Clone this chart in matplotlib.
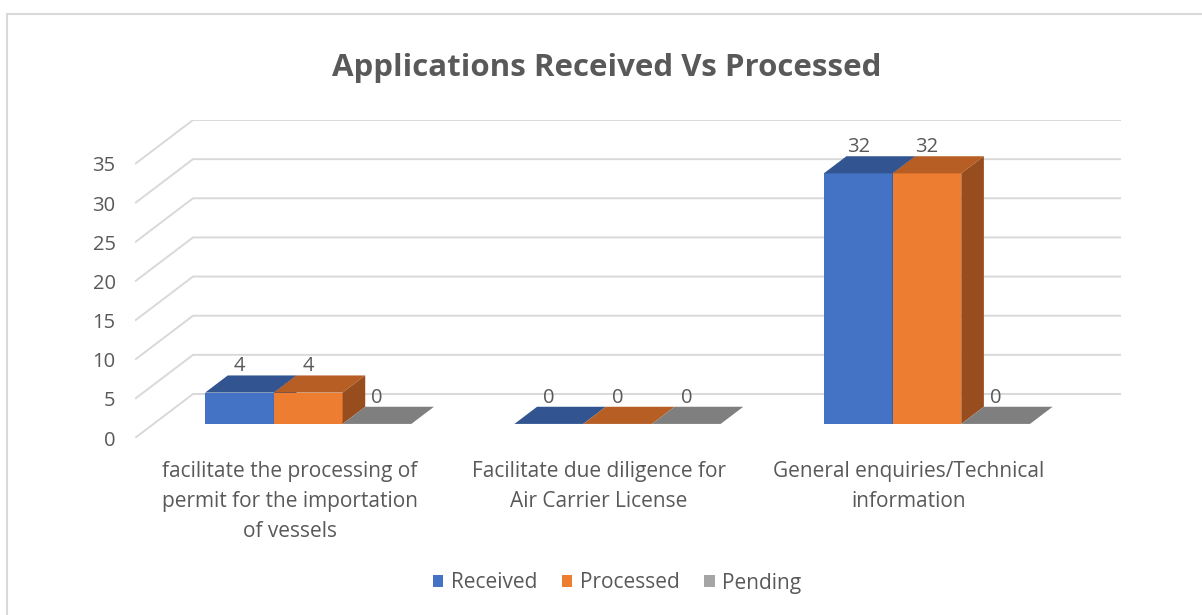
"""Applications received vs processed - 3D style clustered column chart."""

import matplotlib
matplotlib.use("Agg")
import matplotlib.pyplot as plt
from matplotlib.patches import Polygon, Rectangle, Patch

plt.rcParams['font.family'] = ['Open Sans', 'DejaVu Sans']

# Data
categories = [
    "facilitate the processing of\npermit for the importation\nof vessels",
    "Facilitate due diligence for\nAir Carrier License",
    "General enquiries/Technical\ninformation",
]
series_names = ["Received", "Processed", "Pending"]
received = [4, 0, 32]
processed = [4, 0, 32]
pending = [0, 0, 0]
y_ticks = [0, 5, 10, 15, 20, 25, 30, 35]

# colours: front, top, side
face_colors = {
    "Received": ("#4472C4", "#325592", "#2A4A80"),
    "Processed": ("#ED7D31", "#B65E24", "#974D1D"),
    "Pending": ("#A5A5A5", "#7F7F7F", "#6B6B6B"),
}
text_color = "#595959"
grid_color = "#d9d9d9"

# oblique projection of the depth axis (in data units)
DX = 0.1875   # x shift of full wall depth
DY = 5.62     # y shift of full wall depth
T0 = 0.32     # depth where the bars start
D = 0.39      # bar depth
W = 2 / 9     # bar width (3 bars fill 2/3 of a category)

fig = plt.figure(figsize=(12.02, 6.15), dpi=100)
ax = fig.add_axes([135 / 1202, 177 / 615, 986 / 1202, 318 / 615])
ax.set_xlim(-0.5, 2.5 + DX)
ax.set_ylim(0, 35 + DY)
for s in ax.spines.values():
    s.set_visible(False)

# gridlines: front diagonal + back wall line
for v in y_ticks:
    ax.plot([-0.5, -0.5 + DX, 2.5 + DX], [v, v + DY, v + DY],
            color=grid_color, lw=1.4, zorder=0, solid_capstyle='butt')

ax.set_yticks(y_ticks)
ax.set_xticks(range(len(categories)))
ax.set_xticklabels(categories, linespacing=1.58)
ax.tick_params(axis='y', length=0, pad=14, labelsize=14.5, labelcolor=text_color)
ax.tick_params(axis='x', length=0, pad=16.5, labelsize=15, labelcolor=text_color)

# bars
z = 2
all_values = [received, processed, pending]
for i in range(len(categories)):
    for j, name in enumerate(series_names):
        h = all_values[j][i]
        front, top, side = face_colors[name]
        x0 = i - 1 / 3 + j * W + T0 * DX
        x1 = x0 + W
        y0 = T0 * DY
        ox, oy = D * DX, D * DY
        ax.add_patch(Polygon([(x0, y0), (x1, y0), (x1, y0 + h), (x0, y0 + h)],
                             closed=True, facecolor=front, edgecolor='none', zorder=z))
        ax.add_patch(Polygon([(x0, y0 + h), (x1, y0 + h), (x1 + ox, y0 + h + oy),
                              (x0 + ox, y0 + h + oy)],
                             closed=True, facecolor=top, edgecolor='none', zorder=z + 1))
        ax.add_patch(Polygon([(x1, y0), (x1 + ox, y0 + oy), (x1 + ox, y0 + h + oy),
                              (x1, y0 + h)],
                             closed=True, facecolor=side, edgecolor='none', zorder=z + 2))
        z += 3
        ax.annotate(str(h), xy=((x0 + x1) / 2, y0 + h + oy), xytext=(0, 9),
                    textcoords='offset pixels', ha='center', va='center',
                    fontsize=14.5, color=text_color, zorder=50)

# title
fig.text(607 / 1202, 1 - 68 / 615, "Applications Received Vs Processed",
         ha='center', va='center', fontsize=22.5, fontweight='bold', color=text_color)

# legend
handles = [Patch(facecolor=face_colors[n][0], edgecolor='none') for n in series_names]
fig.legend(handles, series_names, loc='center', ncol=3,
           bbox_to_anchor=(617 / 1202, 1 - 583 / 615), frameon=False,
           fontsize=15, labelcolor=text_color, handlelength=0.5, handleheight=0.5,
           handletextpad=0.35, columnspacing=1.2)

# chart border
fig.patches.append(Rectangle((7 / 1202, -0.1), 1.2, 1 - 14 / 615 + 0.1,
                             transform=fig.transFigure, fill=False,
                             edgecolor=grid_color, lw=1.5))

fig.savefig("out.png", dpi=100)
